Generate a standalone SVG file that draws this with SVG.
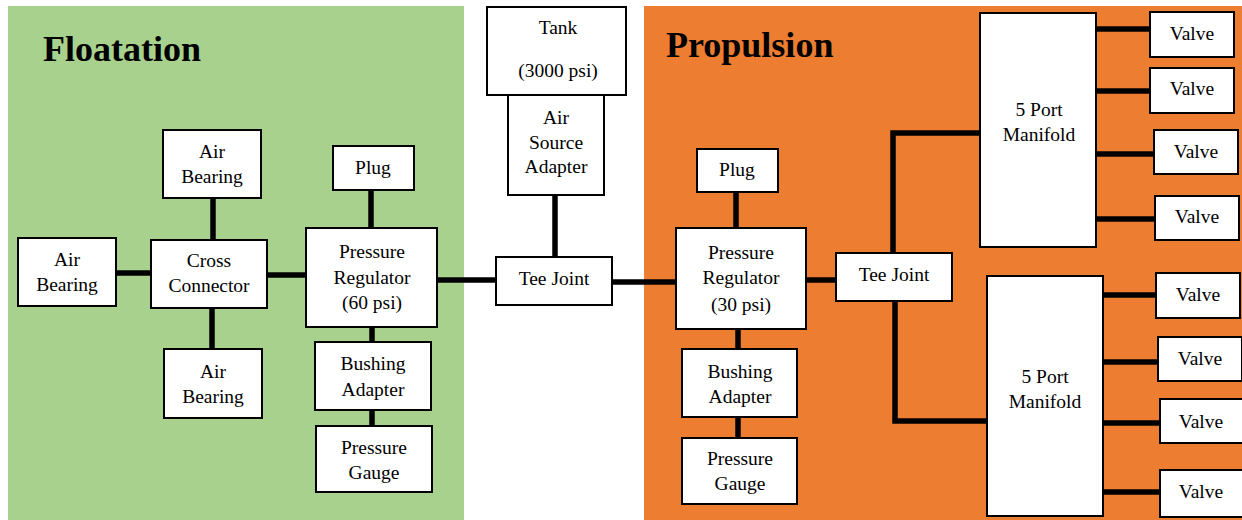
<svg xmlns="http://www.w3.org/2000/svg" width="1242" height="520" viewBox="0 0 1242 520">
  <style>
    .box { fill: #ffffff; stroke: #000000; stroke-width: 2; }
    .pipe { fill: none; stroke: #000000; stroke-width: 5.5; stroke-linecap: butt; stroke-linejoin: miter; }
  </style>

  <!-- subsystem panels -->
  <g id="panels">
    <rect id="floatation-panel" x="8" y="6" width="456" height="514" fill="#A9D18E"/>
    <rect id="propulsion-panel" x="644" y="6" width="598" height="514" fill="#ED7D31"/>
    <g font-family="Liberation Serif, serif" font-size="36" font-weight="bold" fill="#000000">
      <text x="43" y="61">Floatation</text>
      <text x="666" y="57">Propulsion</text>
    </g>
  </g>

  <!-- pipe connections -->
  <g id="connectors">
    <path class="pipe" d="M116,273 H151"/>
    <path class="pipe" d="M213,198 V240"/>
    <path class="pipe" d="M212,308 V349"/>
    <path class="pipe" d="M267,275 H306"/>
    <path class="pipe" d="M371,190 V228"/>
    <path class="pipe" d="M372,327 V342"/>
    <path class="pipe" d="M372,410 V426"/>
    <path class="pipe" d="M437,280 H496"/>
    <path class="pipe" d="M555,195 V257"/>
    <path class="pipe" d="M612,282 H676"/>
    <path class="pipe" d="M736,192 V228"/>
    <path class="pipe" d="M738,329 V349"/>
    <path class="pipe" d="M738,417 V438"/>
    <path class="pipe" d="M806,280 H836"/>
    <path class="pipe" d="M893,253 V133 H980"/>
    <path class="pipe" d="M895,301 V421 H987"/>
    <path class="pipe" d="M1096,29 H1150"/>
    <path class="pipe" d="M1096,91 H1150"/>
    <path class="pipe" d="M1096,154 H1154"/>
    <path class="pipe" d="M1096,219 H1155"/>
    <path class="pipe" d="M1103,295 H1156"/>
    <path class="pipe" d="M1103,362 H1158"/>
    <path class="pipe" d="M1103,423 H1160"/>
    <path class="pipe" d="M1103,492 H1160"/>
  </g>

  <g id="nodes" font-family="Liberation Serif, serif" font-size="19.5" text-anchor="middle" fill="#000000">
  <!-- floatation components -->
  <g id="air-bearing-left">
    <rect class="box" x="18" y="238" width="98" height="68"/>
    <text x="67" y="266">Air</text>
    <text x="67" y="291">Bearing</text>
  </g>
  <g id="air-bearing-top">
    <rect class="box" x="163" y="130" width="98" height="68"/>
    <text x="212" y="158">Air</text>
    <text x="212" y="183">Bearing</text>
  </g>
  <g id="cross-connector">
    <rect class="box" x="151" y="240" width="116" height="68"/>
    <text x="209" y="267">Cross</text>
    <text x="209" y="292">Connector</text>
  </g>
  <g id="air-bearing-bottom">
    <rect class="box" x="164" y="349" width="98" height="69"/>
    <text x="213" y="378">Air</text>
    <text x="213" y="403">Bearing</text>
  </g>
  <g id="plug-floatation">
    <rect class="box" x="333" y="146" width="81" height="44"/>
    <text x="373" y="174">Plug</text>
  </g>
  <g id="regulator-60">
    <rect class="box" x="306" y="228" width="131" height="99"/>
    <text x="372" y="258">Pressure</text>
    <text x="372" y="284">Regulator</text>
    <text x="372" y="309">(60 psi)</text>
  </g>
  <g id="bushing-floatation">
    <rect class="box" x="315" y="342" width="116" height="68"/>
    <text x="373" y="370">Bushing</text>
    <text x="373" y="396">Adapter</text>
  </g>
  <g id="gauge-floatation">
    <rect class="box" x="316" y="426" width="116" height="66"/>
    <text x="374" y="454">Pressure</text>
    <text x="374" y="479">Gauge</text>
  </g>

  <!-- air supply -->
  <g id="tank">
    <rect class="box" x="487" y="7" width="139" height="88"/>
    <text x="558" y="34">Tank</text>
    <text x="558" y="77">(3000 psi)</text>
  </g>
  <g id="air-source-adapter">
    <rect class="box" x="508" y="95" width="96" height="100"/>
    <text x="556" y="124">Air</text>
    <text x="556" y="149">Source</text>
    <text x="556" y="173">Adapter</text>
  </g>
  <g id="tee-joint-main">
    <rect class="box" x="496" y="257" width="116" height="48"/>
    <text x="554" y="285">Tee Joint</text>
  </g>

  <!-- propulsion components -->
  <g id="plug-propulsion">
    <rect class="box" x="697" y="149" width="81" height="43"/>
    <text x="737" y="176">Plug</text>
  </g>
  <g id="regulator-30">
    <rect class="box" x="676" y="228" width="130" height="101"/>
    <text x="741" y="259">Pressure</text>
    <text x="741" y="284">Regulator</text>
    <text x="741" y="311">(30 psi)</text>
  </g>
  <g id="tee-joint-propulsion">
    <rect class="box" x="836" y="253" width="116" height="48"/>
    <text x="894" y="281">Tee Joint</text>
  </g>
  <g id="bushing-propulsion">
    <rect class="box" x="682" y="349" width="115" height="68"/>
    <text x="740" y="378">Bushing</text>
    <text x="740" y="403">Adapter</text>
  </g>
  <g id="gauge-propulsion">
    <rect class="box" x="682" y="438" width="115" height="66"/>
    <text x="740" y="465">Pressure</text>
    <text x="740" y="490">Gauge</text>
  </g>

  <!-- manifolds -->
  <g id="manifold-upper">
    <rect class="box" x="980" y="13" width="116" height="234"/>
    <text x="1039" y="116">5 Port</text>
    <text x="1039" y="141">Manifold</text>
  </g>
  <g id="manifold-lower">
    <rect class="box" x="987" y="276" width="116" height="240"/>
    <text x="1045" y="383">5 Port</text>
    <text x="1045" y="408">Manifold</text>
  </g>

  <!-- valves -->
  <g id="valve-1">
    <rect class="box" x="1150" y="12" width="84" height="45"/>
    <text x="1192" y="40">Valve</text>
  </g>
  <g id="valve-2">
    <rect class="box" x="1150" y="68" width="84" height="45"/>
    <text x="1192" y="95">Valve</text>
  </g>
  <g id="valve-3">
    <rect class="box" x="1154" y="130" width="84" height="44"/>
    <text x="1196" y="158">Valve</text>
  </g>
  <g id="valve-4">
    <rect class="box" x="1155" y="196" width="84" height="44"/>
    <text x="1197" y="223">Valve</text>
  </g>
  <g id="valve-5">
    <rect class="box" x="1156" y="273" width="84" height="45"/>
    <text x="1198" y="301">Valve</text>
  </g>
  <g id="valve-6">
    <rect class="box" x="1158" y="337" width="84" height="44"/>
    <text x="1200" y="365">Valve</text>
  </g>
  <g id="valve-7">
    <rect class="box" x="1160" y="399" width="86" height="44"/>
    <text x="1201" y="428">Valve</text>
  </g>
  <g id="valve-8">
    <rect class="box" x="1160" y="470" width="86" height="47"/>
    <text x="1201" y="498">Valve</text>
  </g>
  </g>
</svg>
